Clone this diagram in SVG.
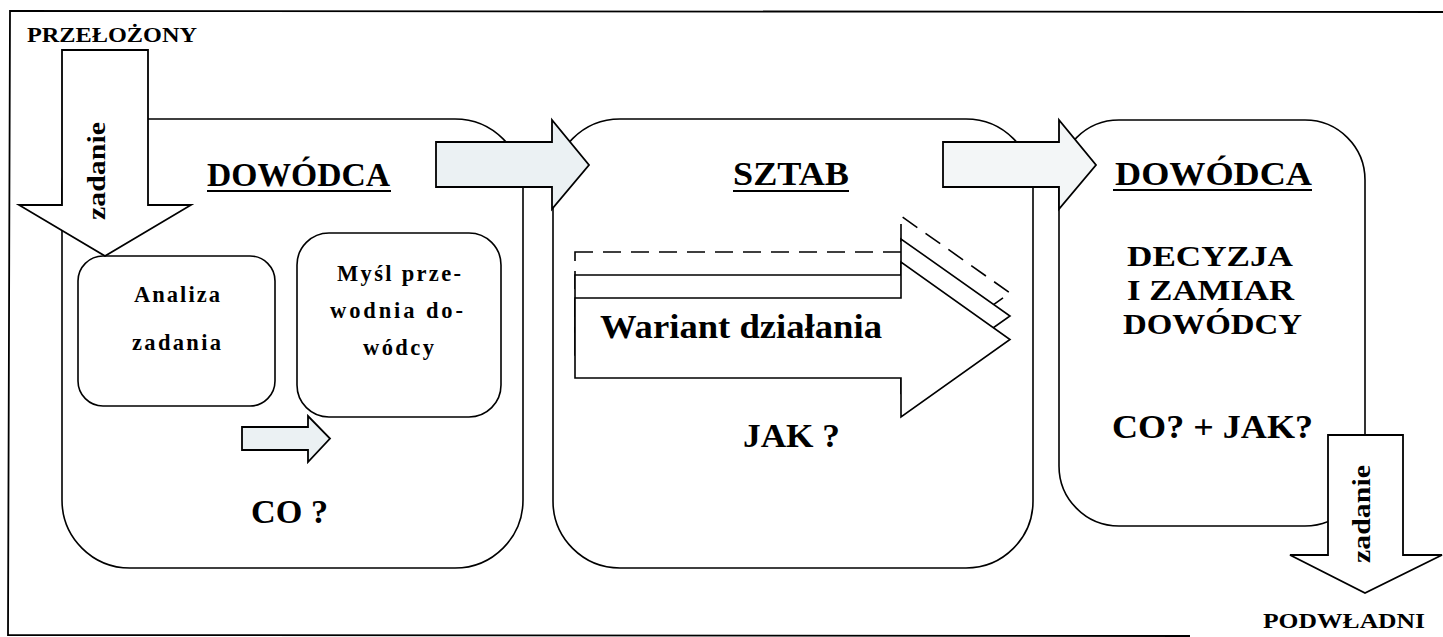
<svg xmlns="http://www.w3.org/2000/svg" width="1443" height="637" viewBox="0 0 1443 637">
  <style>
    .box { fill: #ffffff; stroke: #000000; stroke-width: 1.6; }
    .blk { fill: #ffffff; stroke: #000000; stroke-width: 1.8; stroke-linejoin: miter; }
    .tint { fill: #ebf1f3; stroke: #000000; stroke-width: 1.8; }
    .tint2 { fill: #f3f6f7; stroke: #000000; stroke-width: 1.8; }
    .var { fill: #ffffff; stroke: #000000; stroke-width: 1.6; }
    .dash { fill: #ffffff; stroke: #000000; stroke-width: 1.6; stroke-dasharray: 18 10; }
    .t { font-family: "Liberation Serif", "Times New Roman", serif; font-weight: bold; fill: #000000; }
    .small { font-size: 22.5px; }
    .big { font-size: 33px; }
    .mid { font-size: 30px; }
    .lbl { font-size: 22px; }
    .ul { stroke: #000000; stroke-width: 2.2; }
  </style>

  <!-- page frame -->
  <path d="M1443,12 L10,11 L8,635 L1190,636" fill="none" stroke="#000" stroke-width="1.8"/>

  <!-- DOWÓDCA (first) -->
  <g id="dowodca-1">
    <rect class="box" x="62" y="119" width="461" height="449" rx="68" ry="68"/>
    <text class="t big" x="207" y="186" textLength="183" lengthAdjust="spacingAndGlyphs">DOWÓDCA</text>
    <line class="ul" x1="207" y1="191" x2="391" y2="191"/>
    <g id="analiza">
      <rect class="box" x="78" y="256" width="197" height="150" rx="25" ry="25"/>
      <text class="t small" x="134" y="302" textLength="86" lengthAdjust="spacing">Analiza</text>
      <text class="t small" x="132" y="350" textLength="89" lengthAdjust="spacing">zadania</text>
    </g>
    <g id="mysl-przewodnia">
      <rect class="box" x="297" y="233" width="204" height="184" rx="32" ry="32"/>
      <text class="t small" x="337" y="281" textLength="124" lengthAdjust="spacing">Myśl prze-</text>
      <text class="t small" x="330" y="318" textLength="133" lengthAdjust="spacing">wodnia do-</text>
      <text class="t small" x="363" y="355" textLength="71" lengthAdjust="spacing">wódcy</text>
    </g>
    <text class="t big" x="251" y="523" textLength="77" lengthAdjust="spacingAndGlyphs">CO ?</text>
  </g>

  <!-- SZTAB -->
  <g id="sztab">
    <rect class="box" x="553" y="119" width="480" height="449" rx="67" ry="67"/>
    <text class="t big" x="733" y="185" textLength="116" lengthAdjust="spacingAndGlyphs">SZTAB</text>
    <line class="ul" x1="733" y1="191" x2="849" y2="191"/>
    <!-- stacked course-of-action arrows -->
    <polygon class="dash" points="575,252 901,252 901,216 1010,293 901,370 901,332 575,332"/>
    <polygon class="var" points="575,275 901,275 901,239 1010,316 901,393 901,355 575,355"/>
    <polygon class="var" points="575,298 901,298 901,262 1010,339.5 901,417 901,378 575,378"/>
    <text class="t big" x="600" y="338" textLength="282" lengthAdjust="spacingAndGlyphs">Wariant działania</text>
    <text class="t big" x="743" y="447" textLength="97" lengthAdjust="spacingAndGlyphs">JAK ?</text>
  </g>

  <!-- DOWÓDCA (decision) -->
  <g id="dowodca-2">
    <rect class="box" x="1059" y="120" width="306" height="406" rx="60" ry="60"/>
    <text class="t big" x="1115" y="185" textLength="197" lengthAdjust="spacingAndGlyphs">DOWÓDCA</text>
    <line class="ul" x1="1113" y1="190" x2="1312" y2="190"/>
    <text class="t mid" x="1127" y="266" textLength="166" lengthAdjust="spacingAndGlyphs">DECYZJA</text>
    <text class="t mid" x="1127" y="300" textLength="167" lengthAdjust="spacingAndGlyphs">I ZAMIAR</text>
    <text class="t mid" x="1123" y="334" textLength="179" lengthAdjust="spacingAndGlyphs">DOWÓDCY</text>
    <text class="t big" x="1112" y="438" textLength="201" lengthAdjust="spacingAndGlyphs">CO? + JAK?</text>
  </g>

  <!-- block arrows -->
  <g id="connectors">
    <g id="zadanie-in">
      <polygon class="blk" points="62,50 148,50 148,205 191,205 105,256 19,205 62,205"/>
      <text class="t" font-size="25" transform="translate(105,171) rotate(-90)" text-anchor="middle" textLength="98" lengthAdjust="spacingAndGlyphs">zadanie</text>
    </g>
    <polygon id="dowodca-to-sztab" class="tint" points="436,142 552,142 552,120 589,165 552,209 552,187 436,187"/>
    <polygon id="sztab-to-dowodca" class="tint2" points="943,142 1059,142 1059,120 1096,165 1059,209 1059,187 943,187"/>
    <polygon id="analiza-to-mysl" class="tint" points="242,427 308,427 308,416 330,438.5 308,462 308,450 242,450"/>
    <g id="zadanie-out">
      <polygon class="blk" points="1328,435 1403,435 1403,555 1442,555 1365,593 1290,555 1328,555"/>
      <text class="t" font-size="25" transform="translate(1370,514) rotate(-90)" text-anchor="middle" textLength="98" lengthAdjust="spacingAndGlyphs">zadanie</text>
    </g>
  </g>

  <!-- external parties -->
  <text id="przelozony" class="t lbl" x="27" y="42" textLength="170" lengthAdjust="spacingAndGlyphs">PRZEŁOŻONY</text>
  <text id="podwladni" class="t lbl" x="1263" y="628" textLength="162" lengthAdjust="spacingAndGlyphs">PODWŁADNI</text>
</svg>
